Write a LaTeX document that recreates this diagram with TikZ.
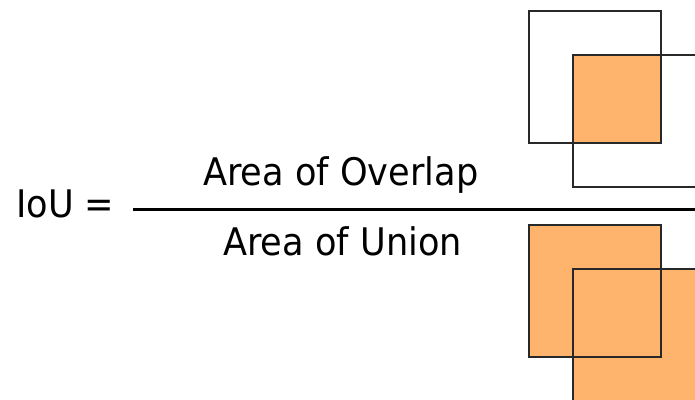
\documentclass[tikz,border=0pt]{standalone}
\usepackage{fontspec}
\setmainfont{DejaVu Sans}[FakeStretch=0.925]
\definecolor{boxfill}{RGB}{255,180,110}
\definecolor{boxline}{RGB}{40,40,40}
\begin{document}
\begin{tikzpicture}[x=1pt,y=-1pt,
  label/.style={inner sep=0pt,font=\fontsize{38}{44}\selectfont,anchor=base west},
  boxedge/.style={draw=boxline,line width=1.3pt}]
\useasboundingbox (0,0) rectangle (695,399);
\begin{scope}
\clip (0,0) rectangle (695,399);
% upper pair: only the intersection is shaded
\fill[boxfill] (573,55) rectangle (661,143);
\draw[boxedge] (529,11) rectangle (661,143);
\draw[boxedge] (573,55) rectangle (717,187);
% lower pair: both boxes shaded (the union)
\fill[boxfill] (529,225) rectangle (661,357);
\fill[boxfill] (573,269) rectangle (717,413);
\draw[boxedge] (529,225) rectangle (661,357);
\draw[boxedge] (573,269) rectangle (717,413);
\end{scope}
% fraction
\node[label] (iou) at (16,217) {IoU =};
\coordinate (barL) at (133,209);
\coordinate (barR) at (695,209);
\draw[line width=3pt] (barL) -- (barR);
\node[label] (num) at (203,185) {Area of Overlap};
\node[label] (den) at (223,255) {Area of Union};
\end{tikzpicture}
\end{document}
